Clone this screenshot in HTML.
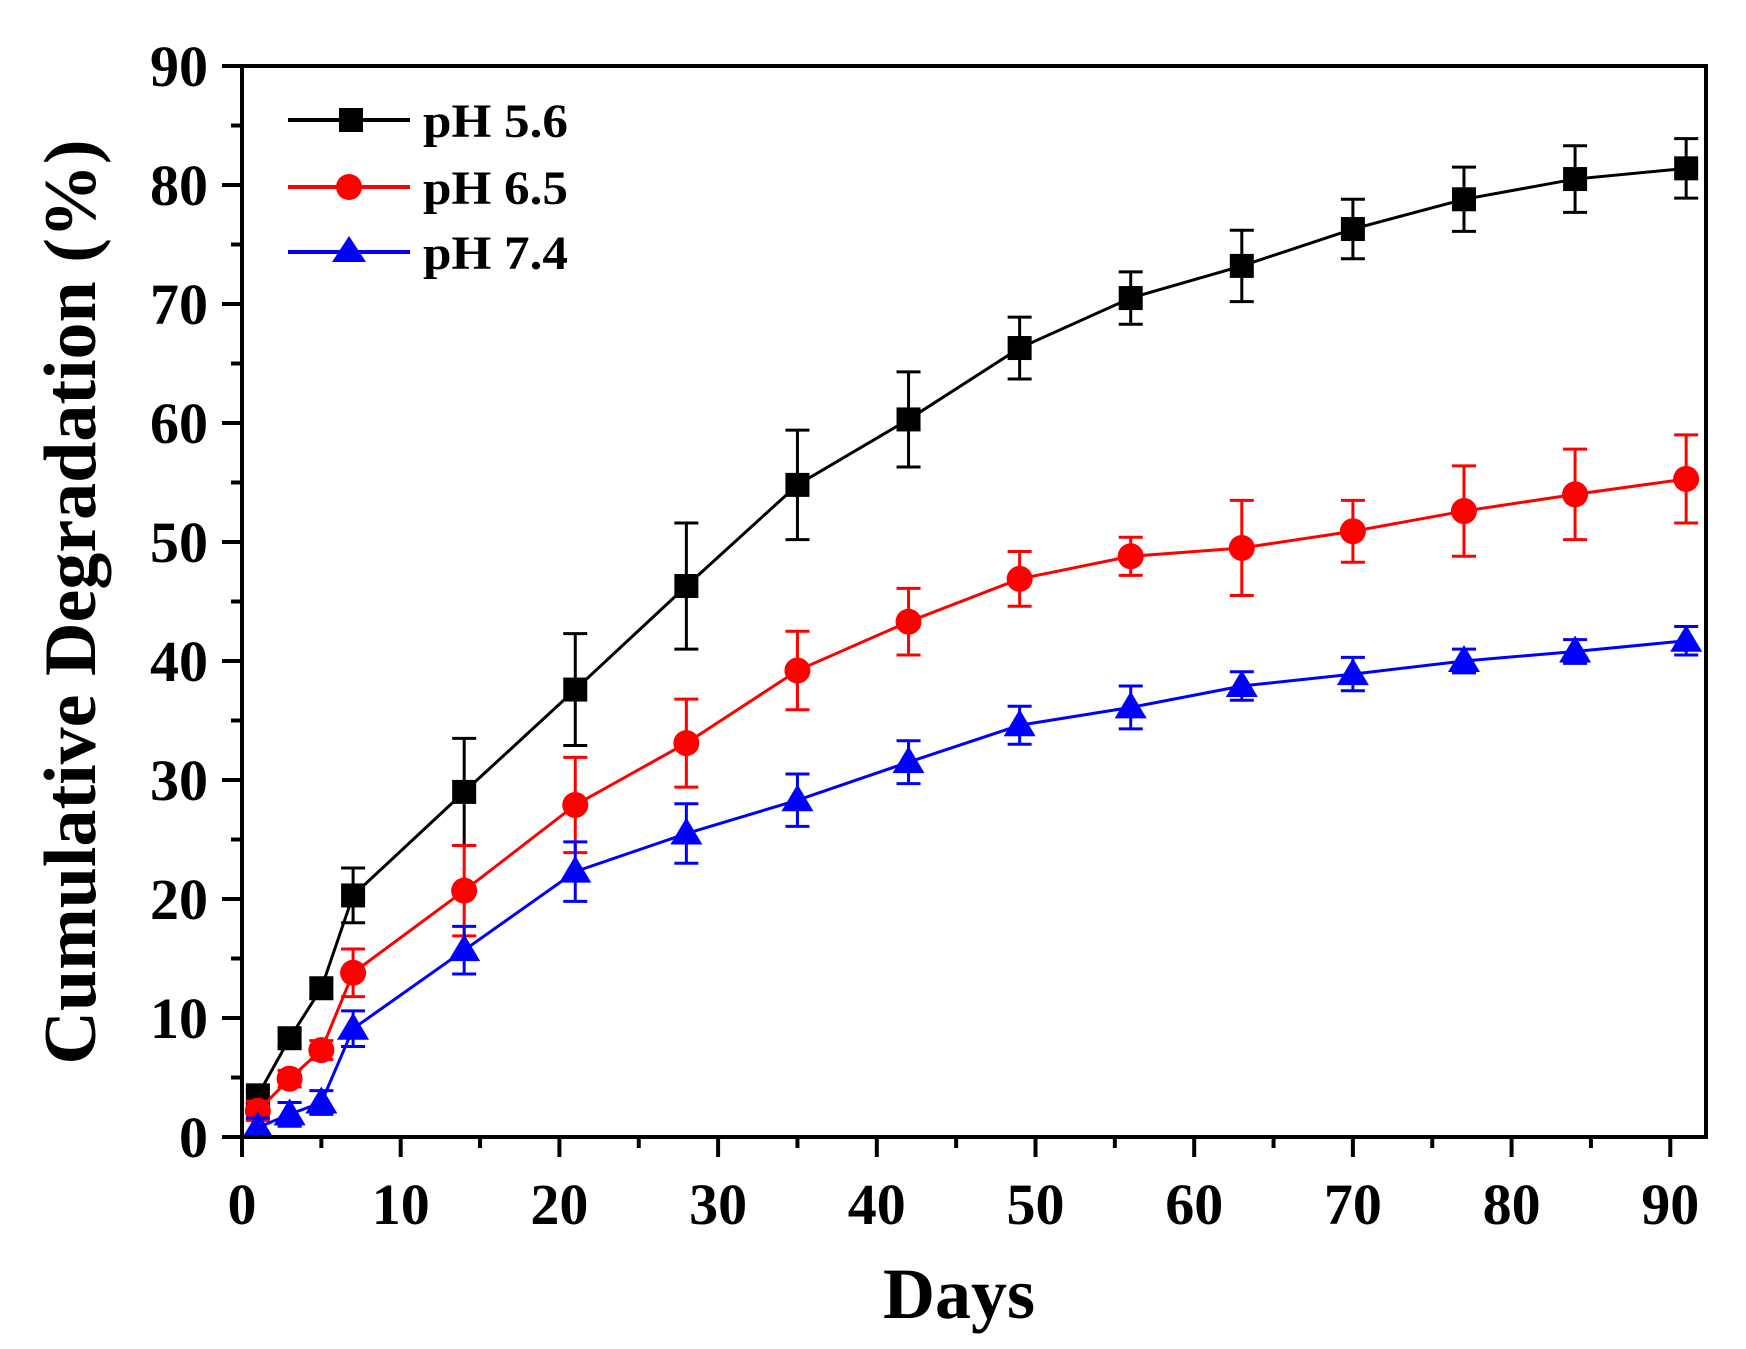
<!DOCTYPE html>
<html><head><meta charset="utf-8"><style>html,body{margin:0;padding:0;background:#fff}svg{display:block}</style></head>
<body>
<svg width="1746" height="1349" viewBox="0 0 1746 1349" xmlns="http://www.w3.org/2000/svg" font-family="Liberation Serif, serif" font-weight="bold">
<rect width="1746" height="1349" fill="#fff"/>
<g id="plot"></g>
<rect x="242" y="66" width="1464" height="1071" fill="none" stroke="#000" stroke-width="4"/>
<g id="ticks" stroke="#000" stroke-width="4"></g>
<g id="labels" font-size="58" fill="#000"></g>
<text x="959" y="1318" font-size="72" text-anchor="middle" textLength="152" lengthAdjust="spacingAndGlyphs">Days</text>
<text transform="translate(95,602) rotate(-90)" font-size="74" text-anchor="middle" textLength="925" lengthAdjust="spacingAndGlyphs">Cumulative Degradation (%)</text>
<g font-size="48">
<line x1="288" y1="120" x2="410" y2="120" stroke="#000" stroke-width="4"/><rect x="339" y="108" width="24" height="24" fill="#000"/>
<text x="423" y="137" textLength="145" lengthAdjust="spacingAndGlyphs">pH 5.6</text>
<line x1="288" y1="187" x2="410" y2="187" stroke="#f00" stroke-width="4"/><circle cx="349" cy="187" r="13" fill="#f00"/>
<text x="423" y="204" textLength="145" lengthAdjust="spacingAndGlyphs">pH 6.5</text>
<line x1="288" y1="252" x2="410" y2="252" stroke="#00f" stroke-width="4"/><polygon points="349,236 366,262 332,262" fill="#00f"/>
<text x="423" y="269" textLength="145" lengthAdjust="spacingAndGlyphs">pH 7.4</text>
</g>
<script>
var ns="http://www.w3.org/2000/svg";
function X(d){return 242+d*15.87}
function Y(v){return 1137-v*11.9}
function el(p,t,a){var e=document.createElementNS(ns,t);for(var k in a)e.setAttribute(k,a[k]);p.appendChild(e);return e}
var tk=document.getElementById('ticks'),lb=document.getElementById('labels'),pl=document.getElementById('plot');
for(var v=0;v<=90;v+=5){var maj=v%10==0;
 el(tk,'line',{x1:X(v),y1:1137,x2:X(v),y2:1137+(maj?20:11)});
 el(tk,'line',{x1:242,y1:Y(v),x2:242-(maj?20:11),y2:Y(v)});
 if(maj){var t=el(lb,'text',{x:X(v),y:1224,'text-anchor':'middle'});t.textContent=v;
 var t2=el(lb,'text',{x:208,y:Y(v)+20,'text-anchor':'end'});t2.textContent=v;}}
var days=[1,3,5,7,14,21,28,35,42,49,56,63,70,77,84,91];
var S=[
 {c:'#000',m:'s',v:[3.5,8.3,12.5,20.3,29,37.6,46.3,54.8,60.3,66.3,70.5,73.2,76.3,78.8,80.5,81.4],e:[0.6,0.7,0.8,2.3,4.5,4.7,5.3,4.6,4,2.6,2.2,3,2.5,2.7,2.8,2.5]},
 {c:'#f00',m:'c',v:[2.2,4.9,7.3,13.8,20.7,27.9,33.1,39.2,43.3,46.9,48.8,49.5,50.9,52.6,54,55.3],e:[0.8,0.7,0.8,2,3.8,4,3.7,3.3,2.8,2.3,1.6,4,2.6,3.8,3.8,3.7]},
 {c:'#00f',m:'t',v:[0.8,1.9,2.9,9.1,15.7,22.3,25.5,28.3,31.5,34.6,36.1,37.9,38.9,40,40.8,41.7],e:[0.8,1,1,1.5,2,2.5,2.5,2.2,1.8,1.6,1.8,1.2,1.4,1,1,1.2]}];
S.forEach(function(s){
 var pts=days.map(function(d,i){return X(d)+','+Y(s.v[i])}).join(' ');
 days.forEach(function(d,i){var x=X(d),y1=Y(s.v[i]+s.e[i]),y2=Y(s.v[i]-s.e[i]);
  el(pl,'line',{x1:x,y1:y1,x2:x,y2:y2,stroke:s.c,'stroke-width':3});
  el(pl,'line',{x1:x-12,y1:y1,x2:x+12,y2:y1,stroke:s.c,'stroke-width':3});
  el(pl,'line',{x1:x-12,y1:y2,x2:x+12,y2:y2,stroke:s.c,'stroke-width':3});});
 el(pl,'polyline',{points:pts,fill:'none',stroke:s.c,'stroke-width':3});
 days.forEach(function(d,i){var x=X(d),y=Y(s.v[i]);
  if(s.m=='s')el(pl,'rect',{x:x-12,y:y-12,width:24,height:24,fill:s.c});
  else if(s.m=='c')el(pl,'circle',{cx:x,cy:y,r:13,fill:s.c});
  else el(pl,'polygon',{points:x+','+(y-16)+' '+(x+16)+','+(y+11)+' '+(x-16)+','+(y+11),fill:s.c});});
});
</script>
</svg>
</body></html>
